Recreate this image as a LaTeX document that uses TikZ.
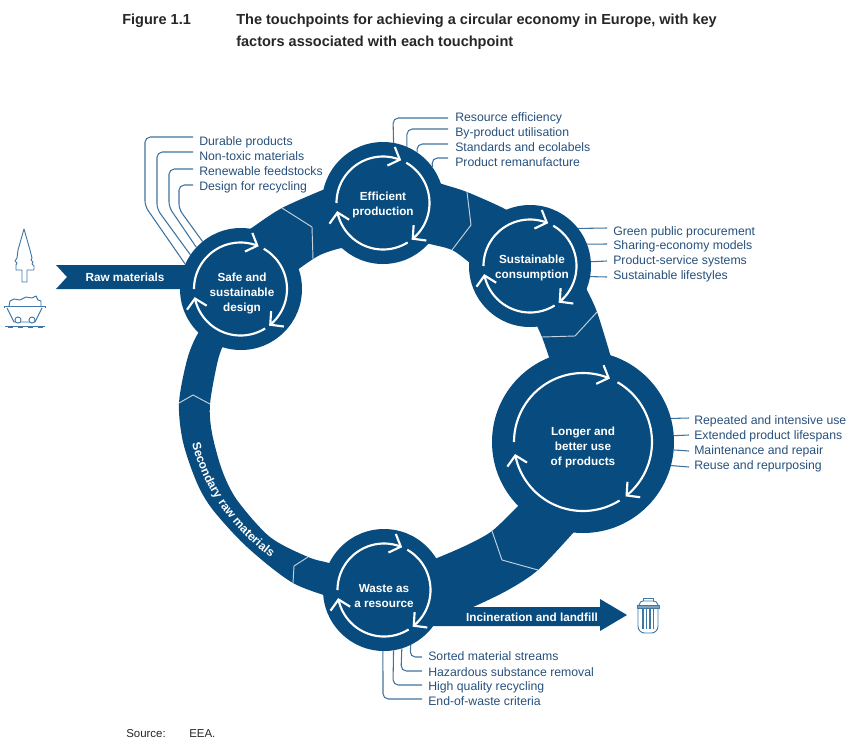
\documentclass[tikz,border=0pt]{standalone}
\usepackage{fontspec}
\setmainfont{Liberation Sans}
\usetikzlibrary{calc,arrows.meta,decorations.text}
\definecolor{eeablue}{HTML}{084C7F}
\definecolor{leadblue}{HTML}{3F739F}
\definecolor{labblue}{HTML}{27507C}
\definecolor{divline}{HTML}{C3D2DF}
\definecolor{iconblue}{HTML}{3F78A6}
\tikzset{
  hub/.style={circle,fill=eeablue,inner sep=0pt,outer sep=0pt},
  hubtext/.style={text=white,font=\fontsize{8.8}{11.25}\selectfont\bfseries,align=center,inner sep=0pt},
  flowtext/.style={text=white,font=\fontsize{8.8}{11}\selectfont\bfseries,inner sep=0pt},
  lab/.style={anchor=west,text=labblue,font=\fontsize{9.2}{11}\selectfont,inner sep=0pt,text height=8.5pt,text depth=2pt},
  leader/.style={draw=leadblue,line width=.8pt,rounded corners=4pt},
  divider/.style={draw=divline,line width=.7pt},
  band/.style={fill=eeablue},
  cyc/.style={draw=white,line width=1.6pt},
  cyctip/.style={cyc,-{Straight Barb[length=7pt,width=15pt,line width=1.6pt]}},
  icon/.style={draw=iconblue,line width=.7pt,line join=round},
  titletext/.style={anchor=west,text=black!85,font=\fontsize{10.9}{12}\selectfont\bfseries,inner sep=0pt,text height=9.5pt,text depth=2pt},
  srctext/.style={anchor=west,text=black!85,font=\fontsize{8.6}{11}\selectfont,inner sep=0pt,text height=7pt,text depth=2pt}
}
\newcommand{\cycarrows}[3]{%
  \draw[cyctip] plot[domain=180:67,samples=40] ({#1+#3*cos(\x)},{#2-#3*sin(\x)});
  \draw[cyctip] plot[domain=60:-52,samples=40] ({#1+#3*cos(\x)},{#2-#3*sin(\x)});
  \draw[cyctip] plot[domain=-58:-170,samples=40] ({#1+#3*cos(\x)},{#2-#3*sin(\x)});
}
\begin{document}
\begin{tikzpicture}[x=.75pt,y=-.75pt]
\useasboundingbox (0,0) rectangle (850,744);
% title
\node[titletext] (fig) at (122,19) {Figure 1.1};
\node[titletext] (t1) at (236,19) {The touchpoints for achieving a circular economy in Europe, with key};
\node[titletext] (t2) at (236,41) {factors associated with each touchpoint};
\node[srctext] (s1) at (126,734) {Source:};
\node[srctext] (s2) at (189,734) {EEA.};
% ring bands
\fill[band] plot[smooth] coordinates {(210,320)(197,335)(187,360)(179,403)(183,442)(197,483)(213,510)(247,547)(293,583)(340,600)}
  -- plot[smooth] coordinates {(340,568)(329,563)(308,557)(270,537)(237,500)(222,470)(212,433)(210,404)(218,360)(226,340)(240,320)} -- cycle;
\fill[band] plot[smooth] coordinates {(235,240)(253,227)(282,208)(325,189)(350,180)}
  -- plot[smooth] coordinates {(355,250)(342,248)(320,255)(300,268)(285,280)} -- cycle;
\fill[band] plot[smooth] coordinates {(425,178)(442,184)(467,192)(505,209)(520,220)}
  -- plot[smooth] coordinates {(490,280)(470,263)(452,250)(430,244)(415,240)} -- cycle;
\fill[band] plot[smooth] coordinates {(575,265)(587,290)(597,312)(610,354)(615,375)}
  -- plot[smooth] coordinates {(555,375)(549,357)(542,337)(538,328)(530,310)} -- cycle;
\fill[band] plot[smooth] coordinates {(590,512)(573,533)(538,570)(508,590)(473,607)(445,618)}
  -- plot[smooth] coordinates {(415,566)(437,558)(467,545)(492,531)(518,506)(535,488)} -- cycle;
% flow arrows
\fill[band] (56,265) -- (67,277) -- (56,289) -- (200,289) -- (200,265) -- cycle;
\fill[band] (420,607) -- (600,607) -- (600,599) -- (627,615) -- (600,631) -- (600,626) -- (420,626) -- cycle;
% dividers
\draw[divider] (282,208) -- (312,227) -- (313,259);
\draw[divider] (467,192) -- (471,225) -- (452,250);
\draw[divider] (597,312) -- (575,336) -- (542,337);
\draw[divider] (492,531) -- (502,560) -- (538,570);
\draw[divider] (179,403) -- (193,395) -- (210,404);
\draw[divider] (293,583) -- (294,566) -- (308,557);
% hubs
\node[hub,minimum size=91.5pt] (safe) at (241,289) {};
\node[hub,minimum size=91.5pt] (eff) at (383,203) {};
\node[hub,minimum size=91.5pt] (cons) at (530,266) {};
\node[hub,minimum size=136.5pt] (use) at (583,442) {};
\node[hub,minimum size=91.5pt] (waste) at (384,590) {};
\cycarrows{240.5}{289}{46.5}
\cycarrows{383}{203}{46.5}
\cycarrows{530}{266}{46.5}
\cycarrows{583}{442}{69}
\cycarrows{384}{590}{46.5}
\node[hubtext] (safet) at (242,293) {Safe and\\sustainable\\design};
\node[hubtext] (efft) at (383,204.5) {Efficient\\production};
\node[hubtext] (const) at (532,267.5) {Sustainable\\consumption};
\node[hubtext] (uset) at (583,447) {Longer and\\better use\\of products};
\node[hubtext] (wastet) at (384,596) {Waste as\\a resource};
% flow labels
\node[flowtext] (raw) at (125,277) {Raw materials};
\node[flowtext] (inc) at (532,617) {Incineration and landfill};
\path[decorate,decoration={text along path,text align=center,
  text={|\fontsize{9}{11}\selectfont\bfseries\color{white}|Secondary raw materials}}]
  (192,442) .. controls (201,485) and (232,530) .. (272,558);
% labels and leaders: safe
\node[lab] (a1) at (199,141) {Durable products};
\node[lab] (a2) at (199,156) {Non-toxic materials};
\node[lab] (a3) at (199,171) {Renewable feedstocks};
\node[lab] (a4) at (199,186) {Design for recycling};
\draw[leader] ($(a1.west)+(-6,-4)$) -- (145,137) -- (145,206) -- (safe.156.8);
\draw[leader] ($(a2.west)+(-6,-4)$) -- (157,152) -- (157,209) -- (safe.146.3);
\draw[leader] ($(a3.west)+(-6,-2)$) -- (169,169) -- (169,207) -- (safe.137.6);
\draw[leader] ($(a4.west)+(-6,-1)$) -- (179,185) -- (179,209) -- (safe.129.2);
% efficient
\node[lab] (b1) at (455,117) {Resource efficiency};
\node[lab] (b2) at (455,132) {By-product utilisation};
\node[lab] (b3) at (455,147) {Standards and ecolabels};
\node[lab] (b4) at (455,162) {Product remanufacture};
\draw[leader] ($(b1.west)+(-7,1)$) -- (393,118) -- (eff.80.7);
\draw[leader] ($(b2.west)+(-7,-3)$) -- (407,129) -- (eff.67.2);
\draw[leader] ($(b3.west)+(-7,-3)$) -- (417,144) -- (eff.56.8);
\draw[leader] ($(b4.west)+(-7,-4)$) -- (432,158) -- (eff.36.3);
% consumption
\node[lab] (c1) at (613,231) {Green public procurement};
\node[lab] (c2) at (613,245) {Sharing-economy models};
\node[lab] (c3) at (613,260) {Product-service systems};
\node[lab] (c4) at (613,275) {Sustainable lifestyles};
\draw[leader] ($(c1.west)+(-6,-3)$) -- (cons.38.5);
\draw[leader] ($(c2.west)+(-6,-1)$) -- (cons.21.1);
\draw[leader] ($(c3.west)+(-6,1)$) -- (cons.4.7);
\draw[leader] ($(c4.west)+(-6,2)$) -- (cons.-10.4);
% use
\node[lab] (d1) at (694,420) {Repeated and intensive use};
\node[lab] (d2) at (694,435) {Extended product lifespans};
\node[lab] (d3) at (694,450) {Maintenance and repair};
\node[lab] (d4) at (694,465) {Reuse and repurposing};
\draw[leader] ($(d1.west)+(-5,-2)$) -- (use.15.3);
\draw[leader] ($(d2.west)+(-5,0)$) -- (use.4.4);
\draw[leader] ($(d3.west)+(-5,1)$) -- (use.-5.7);
\draw[leader] ($(d4.west)+(-5,2)$) -- (use.-15.9);
% waste
\node[lab] (e1) at (428,656) {Sorted material streams};
\node[lab] (e2) at (428,672) {Hazardous substance removal};
\node[lab] (e3) at (428,686) {High quality recycling};
\node[lab] (e4) at (428,701) {End-of-waste criteria};
\draw[leader] ($(e1.west)+(-6,1)$) -- (410,657) -- (waste.-64.8);
\draw[leader] ($(e2.west)+(-6,-1)$) -- (401,671) -- (waste.-73.8);
\draw[leader] ($(e3.west)+(-6,-1)$) -- (393,685) -- (waste.-81.5);
\draw[leader] ($(e4.west)+(-6,-2)$) -- (383,699) -- (waste.-91);
% tree icon
\draw[icon] (24,229) -- (30,250) -- (32,258) -- (31,260) -- (33,262) -- (32,264) -- (34,266) -- (34,270) -- (27,270) -- (27,282) -- (22,282) -- (22,270) -- (16,270) -- (16,265) -- (17,263) -- (15,261) -- (17,258) -- (18,250) -- cycle;
% cart icon
\draw[icon] (9,306) -- (10,301) -- (14,299) -- (20,300) -- (26,297) -- (32,298) -- (36,296) -- (38,300) -- (41,301) -- (41,306);
\draw[icon] (4,306) -- (45,306) (4,306) -- (4,308) (45,306) -- (45,308);
\draw[icon] (7,308) -- (14,322) -- (35,322) -- (42,308);
\draw[icon,fill=white] (18,320) circle[radius=2.3pt];
\draw[icon,fill=white] (32,320) circle[radius=2.3pt];
\draw[icon] (5,326) -- (45,326);
\draw[icon] (8,327.5) -- (13,327.5) (18,327.5) -- (23,327.5) (28,327.5) -- (33,327.5) (38,327.5) -- (43,327.5);
% bin icon
\draw[icon] (643,601) -- (643,598) -- (653,598) -- (653,601);
\draw[icon] (639,605) .. controls (640,602) and (641,601) .. (643,601) -- (653,601) .. controls (656,601) and (657,602) .. (658,605);
\draw[icon,fill=iconblue!70] (637,605) rectangle (659,608);
\draw[icon,rounded corners=5pt] (638,608) -- (638,633) -- (658,633) -- (658,608);
\draw[draw=iconblue,line width=1.1pt] (643,609) -- (643,629) (646.5,609) -- (646.5,629) (650,609) -- (650,629) (653.5,609) -- (653.5,629);
\end{tikzpicture}
\end{document}
